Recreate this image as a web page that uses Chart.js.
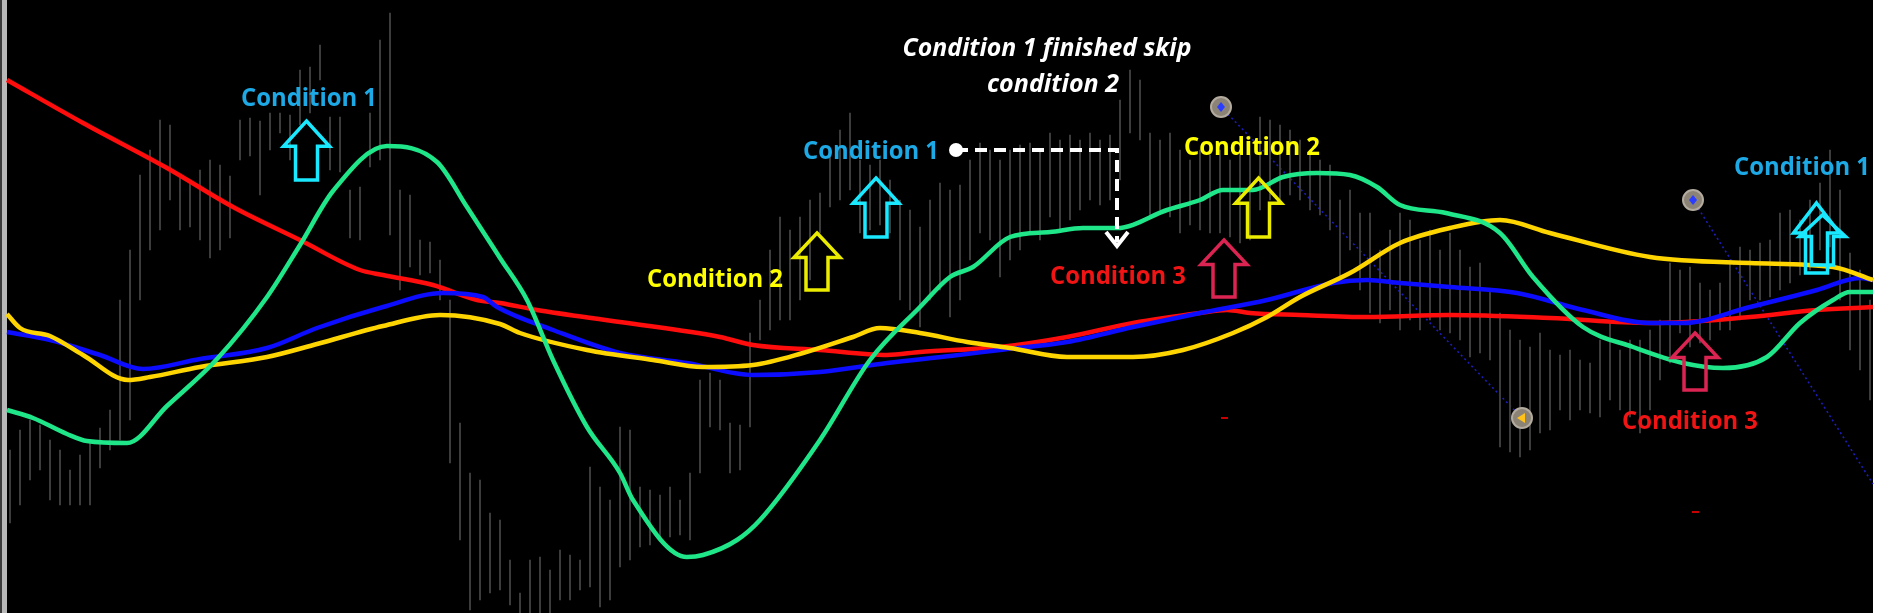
<!DOCTYPE html>
<html>
<head>
<meta charset="utf-8">
<script src="https://cdn.jsdelivr.net/npm/chart.js@4.4.1/dist/chart.umd.min.js"></script>
<style>
    html, body { margin: 0; padding: 0; background: #fff; }
    #tela { width: 1889px; height: 613px; }
</style>
</head>
<body>
<div id="tela"><canvas id="grafico" width="1889" height="613"></canvas></div>
<script>
// eixo x = barra (1 unidade = 1 barra do gráfico), eixo y = preço em pontos

// máximas e mínimas das barras de preço (barra 1 até 187)
const barrasMax = [
    163, 183, 193, 188, 173, 163, 143, 158, 173, 185,
    203, 313, 363, 438, 463, 493, 488, 437, 433, 443,
    453, 448, 437, 493, 495, 492, 500, 500, 498, 543,
    546, 568, 496, 496, 423, 426, 500, 573, 600, 423,
    418, 373, 371, 353, 313, 190, 140, 133, 100, 93,
    53, 20, 53, 56, 43, 63, 58, 53, 146, 126,
    113, 186, 183, 126, 123, 118, 126, 113, 140, 233,
    240, 233, 190, 188, 280, 313, 363, 396, 383, 396,
    413, 420, 463, 483, 500, 453, 448, 453, 433, 413,
    403, 386, 413, 430, 423, 428, 453, 470, 463, 453,
    463, 468, 470, 463, 480, 473, 478, 473, 480, 473,
    478, 513, 543, 533, 480, 473, 480, 463, 453, 463,
    458, 463, 453, 463, 458, 496, 493, 488, 483, 473,
    463, 453, 448, 413, 423, 400, 400, 363, 383, 400,
    393, 373, 383, 363, 380, 363, 346, 350, 323, 300,
    283, 273, 266, 280, 263, 258, 263, 253, 250, 273,
    290, 263, 273, 273, 283, 293, 350, 343, 346, 330,
    323, 330, 353, 366, 363, 370, 373, 400, 403, 393,
    413, 430, 463, 423, 360, 343, 313
];
const barrasMin = [
    90, 108, 133, 143, 113, 108, 108, 108, 108, 145,
    163, 173, 193, 313, 363, 383, 413, 383, 386, 373,
    355, 363, 375, 453, 457, 418, 463, 480, 453, 488,
    500, 533, 443, 441, 375, 373, 446, 453, 378, 323,
    346, 338, 340, 313, 150, 73, 3, 13, 20, 23,
    8, 0, 0, 0, 0, 13, 13, 23, 26, 6,
    13, 46, 53, 66, 68, 73, 76, 78, 73, 140,
    186, 183, 140, 143, 186, 273, 283, 293, 293, 313,
    333, 380, 406, 413, 423, 380, 383, 388, 380, 313,
    303, 286, 313, 323, 296, 313, 353, 380, 373, 336,
    353, 363, 380, 373, 396, 383, 393, 403, 413, 408,
    413, 433, 480, 473, 396, 403, 396, 380, 388, 383,
    380, 380, 376, 370, 373, 403, 413, 413, 418, 413,
    403, 398, 383, 330, 363, 323, 300, 290, 303, 283,
    293, 283, 293, 283, 280, 273, 256, 260, 253, 166,
    161, 156, 163, 180, 183, 203, 193, 203, 200, 196,
    213, 203, 196, 180, 203, 233, 250, 280, 266, 270,
    273, 283, 283, 293, 313, 313, 316, 323, 330, 338,
    343, 363, 366, 313, 263, 243, 213
];

// médias móveis: [barra, valor]
const mediaVermelha = [
    [0.7, 533], [8.3, 490], [16.7, 445], [23.3, 406], [30, 373], [36, 343], [38.3, 338],
    [43.3, 328], [47.7, 313], [50, 310], [53.7, 303], [62, 291], [72, 276], [75.3, 268],
    [82, 263], [88.7, 258], [92, 261], [100, 266], [106.7, 276], [113.3, 290], [120, 300],
    [122.7, 303], [125, 300], [130, 298], [136.7, 296], [145, 298], [155, 295], [165, 290],
    [175, 296], [181.7, 303], [187.3, 306]
];
const mediaAzul = [
    [0.7, 281], [5, 273], [10, 258], [14.3, 244], [20, 254], [26.7, 265], [31.7, 285],
    [38.3, 306], [44.3, 320], [48.3, 316], [49.7, 306], [55.3, 283], [62, 260], [68.7, 250],
    [75.3, 238], [82, 241], [88.7, 250], [95, 257], [100, 263], [106.7, 271], [113.3, 286],
    [120, 300], [126.7, 313], [133.3, 330], [136.7, 333], [140, 330], [145, 326],
    [151.7, 320], [158.3, 303], [165, 290], [168.3, 290], [175, 306], [181.7, 323],
    [186, 335], [187.3, 333]
];
const mediaAmarela = [
    [0.7, 299], [2, 285], [5, 277], [8.3, 258], [12.8, 233], [15, 236], [20, 246],
    [26.7, 256], [31.7, 269], [38.3, 287], [44, 298], [50, 289], [52, 280], [58.7, 263],
    [65.3, 253], [70.3, 246], [75.3, 248], [80.3, 260], [85.3, 276], [88, 285], [92, 280],
    [96.7, 271], [101, 265], [106.7, 256], [113.3, 256], [118.3, 263], [123.3, 280],
    [126.7, 296], [130, 316], [135, 340], [140, 370], [145, 385], [150, 393], [155, 380],
    [165, 356], [175, 350], [183.3, 346], [187.3, 333]
];
const mediaVerde = [
    [0.7, 203], [3.3, 195], [6.7, 179], [8.7, 172], [12.7, 170], [16.7, 207], [21.7, 254],
    [26.7, 316], [30, 368], [33.3, 422], [38.7, 467], [43.7, 451], [46.7, 406], [50, 355],
    [52.7, 313], [55.3, 253], [58.7, 186], [62, 140], [63.3, 113], [68.7, 56], [70.3, 58],
    [73.7, 73], [76, 93], [82, 173], [87, 253], [92, 306], [95, 336], [97.3, 346],
    [101, 376], [105, 381], [108.3, 385], [111.7, 385], [116.7, 403], [120, 413],
    [122.3, 423], [125.3, 423], [128.3, 436], [131.7, 440], [135, 438], [137.7, 426],
    [140, 408], [144.6, 400], [150, 380], [153.3, 336], [158.3, 286], [163.3, 266],
    [168.3, 250], [172.3, 245], [176.7, 256], [180, 290], [183.3, 313], [185, 321], [187.3, 321]
];

// anotações do print
const rotulos = [
    { texto: 'Condition 1', x: 30.9, y: 514, cor: '#1ca9e6' },
    { texto: 'Condition 1', x: 87.1, y: 461, cor: '#1ca9e6' },
    { texto: 'Condition 1', x: 180.2, y: 445, cor: '#1ca9e6' },
    { texto: 'Condition 2', x: 71.5, y: 333, cor: '#ffff00' },
    { texto: 'Condition 2', x: 125.2, y: 465, cor: '#ffff00' },
    { texto: 'Condition 3', x: 111.8, y: 336, cor: '#f01414' },
    { texto: 'Condition 3', x: 169.0, y: 191, cor: '#f01414' }
];
const setas = [
    { x: 30.65, topo: 492, base: 433, cor: '#1ae8ff' },
    { x: 87.6, topo: 435, base: 376, cor: '#1ae8ff' },
    { x: 81.7, topo: 380, base: 323, cor: '#ecec00' },
    { x: 122.4, topo: 373, base: 316, cor: '#dc2452' },
    { x: 125.85, topo: 435, base: 376, cor: '#ecec00' },
    { x: 181.65, topo: 410, base: 340, cor: '#1ae8ff' },
    { x: 182.25, topo: 398, base: 348, cor: '#1ae8ff' },
    { x: 169.5, topo: 280, base: 223, cor: '#dc2452' }
];
const titulo = ['Condition 1 finished skip', 'condition 2'];
const marcadores = [
    { x: 122.1, y: 506, ate: [152.2, 195], tipo: 'losango' },
    { x: 152.2, y: 195, ate: null, tipo: 'triangulo' },
    { x: 169.3, y: 413, ate: [187.3, 129], tipo: 'losango' }
];
const tracinhos = [[122.4, 195], [169.5, 101]];

const limiteEsq = 0.7, limiteDir = 187.3;

const pares = (lista) => lista.map(([x, y]) => ({ x: x, y: y }));

function seta(ctx, cx, yTopo, yBase, cor) {
    const meiaCabeca = 23, meioCorpo = 11;
    const yCabeca = yTopo + (yBase - yTopo) * 0.43;
    ctx.beginPath();
    ctx.moveTo(cx, yTopo);
    ctx.lineTo(cx + meiaCabeca, yCabeca);
    ctx.lineTo(cx + meioCorpo, yCabeca);
    ctx.lineTo(cx + meioCorpo, yBase);
    ctx.lineTo(cx - meioCorpo, yBase);
    ctx.lineTo(cx - meioCorpo, yCabeca);
    ctx.lineTo(cx - meiaCabeca, yCabeca);
    ctx.closePath();
    ctx.strokeStyle = cor;
    ctx.lineWidth = 3.5;
    ctx.lineJoin = 'miter';
    ctx.stroke();
}

function escreve(ctx, texto, cx, cy, fonte, largura, cor) {
    ctx.save();
    ctx.font = fonte;
    const w = ctx.measureText(texto).width;
    ctx.translate(cx, cy);
    ctx.scale(largura / w, 1);
    ctx.fillStyle = cor;
    ctx.textAlign = 'center';
    ctx.textBaseline = 'middle';
    ctx.fillText(texto, 0, 0);
    ctx.restore();
}

const pluginFundo = {
    id: 'fundo',
    beforeDraw(chart) {
        const { ctx, scales: { x } } = chart;
        const ini = x.getPixelForValue(limiteEsq), fim = x.getPixelForValue(limiteDir);
        ctx.save();
        ctx.fillStyle = '#ffffff';
        ctx.fillRect(0, 0, chart.width, chart.height);
        ctx.fillStyle = '#000000';
        ctx.fillRect(ini, 0, fim - ini, chart.height);
        ctx.fillStyle = '#3c3c3c';
        ctx.fillRect(0, 0, 2, chart.height);
        ctx.fillStyle = '#b8b8b8';
        ctx.fillRect(2, 0, ini - 2, chart.height);
        ctx.restore();
    },
    beforeDatasetsDraw(chart) {
        const { ctx, scales: { x, y } } = chart;
        ctx.save();
        ctx.strokeStyle = '#1c1cb8';
        ctx.lineWidth = 1.6;
        ctx.setLineDash([2, 3]);
        marcadores.forEach((m) => {
            if (!m.ate) return;
            ctx.beginPath();
            ctx.moveTo(x.getPixelForValue(m.x), y.getPixelForValue(m.y));
            ctx.lineTo(x.getPixelForValue(m.ate[0]), y.getPixelForValue(m.ate[1]));
            ctx.stroke();
        });
        ctx.restore();
    }
};

const pluginAnotacoes = {
    id: 'anotacoes',
    afterDatasetsDraw(chart) {
        const { ctx, scales: { x, y } } = chart;
        ctx.save();

        // marcadores redondos
        marcadores.forEach((m) => {
            const px = x.getPixelForValue(m.x), py = y.getPixelForValue(m.y);
            ctx.beginPath();
            ctx.arc(px, py, 10, 0, Math.PI * 2);
            ctx.fillStyle = '#8c8377';
            ctx.fill();
            ctx.lineWidth = 2;
            ctx.strokeStyle = '#b3ab9e';
            ctx.stroke();
            ctx.beginPath();
            if (m.tipo == 'losango') {
                ctx.moveTo(px, py - 5);
                ctx.lineTo(px + 4, py);
                ctx.lineTo(px, py + 5);
                ctx.lineTo(px - 4, py);
                ctx.fillStyle = '#2a3cff';
            } else {
                ctx.moveTo(px - 5, py);
                ctx.lineTo(px + 3, py - 5);
                ctx.lineTo(px + 3, py + 5);
                ctx.fillStyle = '#ffc21a';
            }
            ctx.closePath();
            ctx.fill();
        });

        tracinhos.forEach(([tx, ty]) => {
            ctx.fillStyle = '#c80000';
            ctx.fillRect(x.getPixelForValue(tx) - 3, y.getPixelForValue(ty) - 1, 7, 2);
        });

        setas.forEach((s) => {
            seta(ctx, x.getPixelForValue(s.x), y.getPixelForValue(s.topo), y.getPixelForValue(s.base), s.cor);
        });

        // ligação tracejada "condition 1 finished"
        const x0 = x.getPixelForValue(95.6), y0 = y.getPixelForValue(463);
        const x1 = x.getPixelForValue(111.7), y1 = y.getPixelForValue(367);
        ctx.strokeStyle = '#ffffff';
        ctx.lineWidth = 4;
        ctx.setLineDash([12, 7]);
        ctx.beginPath();
        ctx.moveTo(x0, y0);
        ctx.lineTo(x1, y0);
        ctx.lineTo(x1, y1 - 4);
        ctx.stroke();
        ctx.setLineDash([]);
        ctx.beginPath();
        ctx.moveTo(x1 - 11, y1 - 14);
        ctx.lineTo(x1, y1);
        ctx.lineTo(x1 + 11, y1 - 14);
        ctx.stroke();
        ctx.beginPath();
        ctx.arc(x0, y0, 7, 0, Math.PI * 2);
        ctx.fillStyle = '#ffffff';
        ctx.fill();

        rotulos.forEach((r) => {
            escreve(ctx, r.texto, x.getPixelForValue(r.x), y.getPixelForValue(r.y), 'bold 25px "Open Sans"', 136, r.cor);
        });

        escreve(ctx, titulo[0], x.getPixelForValue(104.7), y.getPixelForValue(564), 'italic bold 25px "Open Sans"', 289, '#ffffff');
        escreve(ctx, titulo[1], x.getPixelForValue(105.3), y.getPixelForValue(528), 'italic bold 25px "Open Sans"', 132, '#ffffff');

        ctx.restore();
    }
};

const linha = (rotulo, dados, cor) => ({
    type: 'line',
    label: rotulo,
    data: pares(dados),
    borderColor: cor,
    borderWidth: 4.5,
    pointRadius: 0,
    fill: false,
    cubicInterpolationMode: 'monotone'
});

let myChart = new Chart(document.getElementById('grafico'), {
    type: 'line',
    data: {
        datasets: [
            linha('MA verde', mediaVerde, '#1fe688'),
            linha('MA amarela', mediaAmarela, '#ffd500'),
            linha('MA azul', mediaAzul, '#0c0cff'),
            linha('MA vermelha', mediaVermelha, '#ff0c0c'),
            {
                type: 'bar',
                label: 'Preço',
                data: barrasMax.map((h, i) => ({ x: i + 1, y: [barrasMin[i], h] })),
                backgroundColor: '#3e3e3e',
                barThickness: 1.3,
                grouped: false
            }
        ]
    },
    options: {
        responsive: false,
        animation: false,
        devicePixelRatio: 1,
        layout: { padding: 0 },
        plugins: {
            legend: { display: false },
            tooltip: { enabled: false }
        },
        scales: {
            x: { type: 'linear', display: false, offset: false, min: 0, max: 188.9 },
            y: { display: false, min: 0, max: 613 }
        }
    },
    plugins: [pluginFundo, pluginAnotacoes]
});
</script>
</body>
</html>
